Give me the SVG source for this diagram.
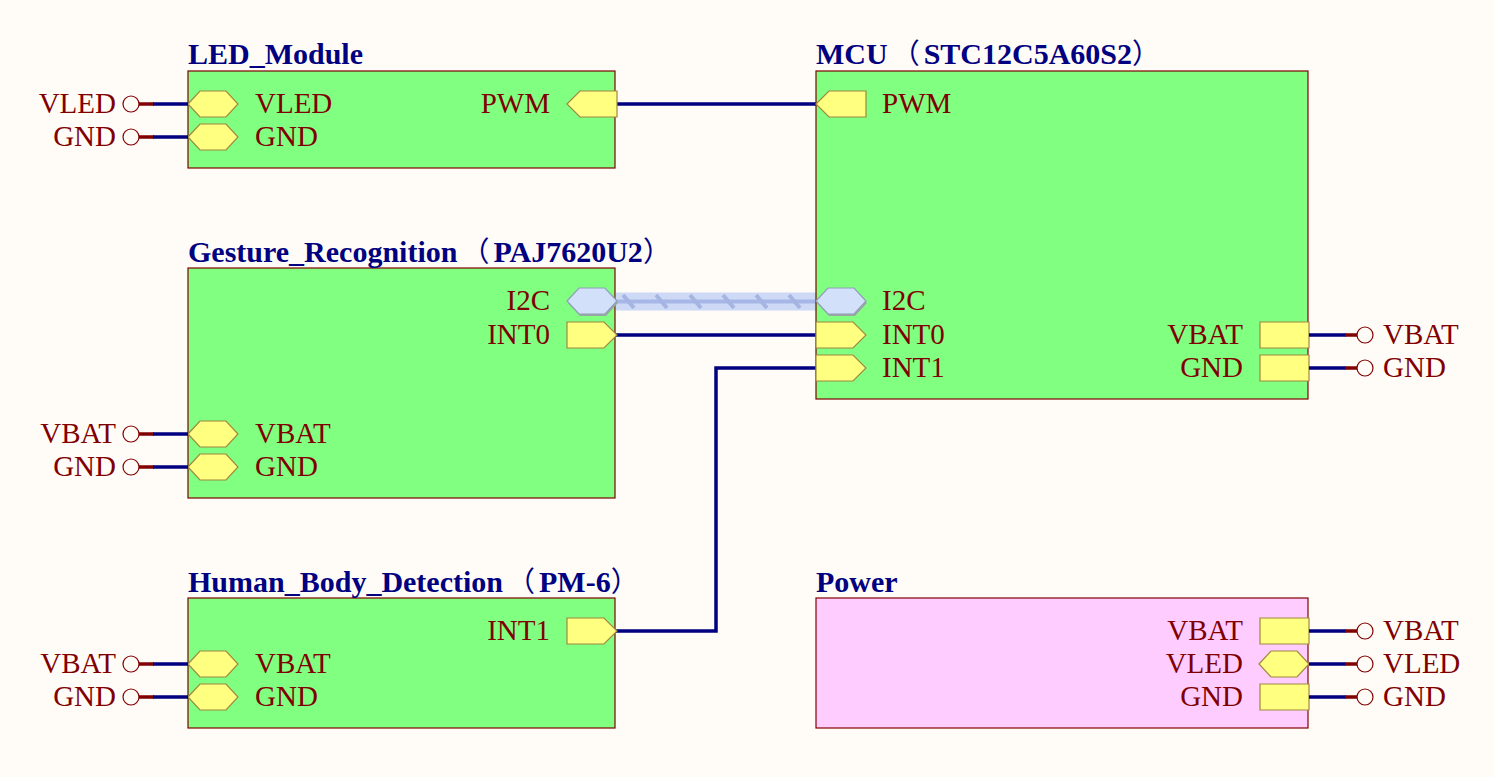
<svg xmlns="http://www.w3.org/2000/svg" xmlns:xlink="http://www.w3.org/1999/xlink" width="1494" height="777" viewBox="0 0 1494 777">
<style>
.bg{fill:#FFFCF8}
.blk{fill:#80FF80;stroke:#800000;stroke-width:1.2}
.pwr{fill:#FFCCFF;stroke:#800000;stroke-width:1.2}
.title{font-family:"Liberation Serif","Noto Sans CJK SC",serif;font-weight:bold;font-size:30px;fill:#000080}
.par{font-weight:normal;font-family:"Noto Sans CJK SC",sans-serif;font-size:28px}
.lbl{font-family:"Liberation Serif",serif;font-size:29px;fill:#800000}
.port{fill:#FFFF80;stroke:#A08840;stroke-width:1.2}
.bport{fill:#D3E0FA;stroke:#8FA0B8;stroke-width:1.2}
.wire{stroke:#000080;stroke-width:3.5;fill:none}
.stub{stroke:#800000;stroke-width:3.5;fill:none}
.pp{fill:#FFFCF8;stroke:#800000;stroke-width:1.2}
</style>
<defs>
<path id="hex" d="M0,0 L12,-13 L38,-13 L50,0 L38,13 L12,13 Z"/>
<path id="penR" d="M0,-13 L37,-13 L50,0 L37,13 L0,13 Z"/>
<path id="penL" d="M0,0 L13,-13 L50,-13 L50,13 L13,13 Z"/>
<path id="rct" d="M0,-13 H49 V13 H0 Z"/>
</defs>
<rect class="bg" x="0" y="0" width="1494" height="777"/>

<g id="connectors">
<line class="wire" x1="617" y1="104" x2="816" y2="104"/>
<line class="wire" x1="616" y1="335" x2="816" y2="335"/>
<path class="wire" d="M816,368 H716 V631 H616"/>
<g id="i2c-bus">
<rect x="616" y="292.5" width="200" height="18" fill="#C6D4F4" opacity="0.85"/>
<line x1="616" y1="301.5" x2="816" y2="301.5" stroke="#A6B6E6" stroke-width="4"/>
<g stroke="#A6B4E2" stroke-width="4">
<line x1="623" y1="295" x2="634" y2="308"/>
<line x1="656" y1="295" x2="667" y2="308"/>
<line x1="690" y1="295" x2="701" y2="308"/>
<line x1="723" y1="295" x2="734" y2="308"/>
<line x1="756" y1="295" x2="767" y2="308"/>
<line x1="789" y1="295" x2="800" y2="308"/>
</g>
</g>
</g>

<g id="led-module">
<rect class="blk" x="188" y="71" width="427" height="97"/>
<text class="title" x="188" y="64">LED_Module</text>
<use href="#hex" class="port" x="188" y="104"/>
<use href="#hex" class="port" x="188" y="137"/>
<use href="#penL" class="port" x="567" y="104"/>
<text class="lbl" x="255" y="113">VLED</text>
<text class="lbl" x="255" y="146">GND</text>
<text class="lbl" x="550" y="113" text-anchor="end">PWM</text>
<line class="stub" x1="139" y1="104" x2="154" y2="104"/><line class="wire" x1="153" y1="104" x2="188" y2="104"/>
<line class="stub" x1="139" y1="137" x2="154" y2="137"/><line class="wire" x1="153" y1="137" x2="188" y2="137"/>
<circle class="pp" cx="131" cy="104" r="8"/>
<circle class="pp" cx="131" cy="137" r="8"/>
<text class="lbl" x="116" y="113" text-anchor="end">VLED</text>
<text class="lbl" x="116" y="146" text-anchor="end">GND</text>
</g>

<g id="gesture">
<rect class="blk" x="188" y="268" width="427" height="230"/>
<text class="title" x="188" y="262">Gesture_Recognition<tspan class="par" dx="4">（</tspan><tspan dx="4">PAJ7620U2</tspan><tspan class="par">）</tspan></text>
<use href="#hex" fill="#9AA8A0" x="568" y="303"/>
<use href="#hex" class="bport" x="567" y="301"/>
<use href="#penR" class="port" x="567" y="335"/>
<text class="lbl" x="550" y="310" text-anchor="end">I2C</text>
<text class="lbl" x="550" y="344" text-anchor="end">INT0</text>
<use href="#hex" class="port" x="188" y="434"/>
<use href="#hex" class="port" x="188" y="467"/>
<text class="lbl" x="255" y="443">VBAT</text>
<text class="lbl" x="255" y="476">GND</text>
<line class="stub" x1="139" y1="434" x2="154" y2="434"/><line class="wire" x1="153" y1="434" x2="188" y2="434"/>
<line class="stub" x1="139" y1="467" x2="154" y2="467"/><line class="wire" x1="153" y1="467" x2="188" y2="467"/>
<circle class="pp" cx="131" cy="434" r="8"/>
<circle class="pp" cx="131" cy="467" r="8"/>
<text class="lbl" x="116" y="443" text-anchor="end">VBAT</text>
<text class="lbl" x="116" y="476" text-anchor="end">GND</text>
</g>

<g id="human-body">
<rect class="blk" x="188" y="598" width="427" height="130"/>
<text class="title" x="188" y="592">Human_Body_Detection<tspan class="par" dx="4">（</tspan><tspan dx="4">PM-6</tspan><tspan class="par">）</tspan></text>
<use href="#penR" class="port" x="567" y="631"/>
<text class="lbl" x="550" y="640" text-anchor="end">INT1</text>
<use href="#hex" class="port" x="188" y="664"/>
<use href="#hex" class="port" x="188" y="697"/>
<text class="lbl" x="255" y="673">VBAT</text>
<text class="lbl" x="255" y="706">GND</text>
<line class="stub" x1="139" y1="664" x2="154" y2="664"/><line class="wire" x1="153" y1="664" x2="188" y2="664"/>
<line class="stub" x1="139" y1="697" x2="154" y2="697"/><line class="wire" x1="153" y1="697" x2="188" y2="697"/>
<circle class="pp" cx="131" cy="664" r="8"/>
<circle class="pp" cx="131" cy="697" r="8"/>
<text class="lbl" x="116" y="673" text-anchor="end">VBAT</text>
<text class="lbl" x="116" y="706" text-anchor="end">GND</text>
</g>

<g id="mcu">
<rect class="blk" x="816" y="71" width="492" height="328"/>
<text class="title" x="816" y="64">MCU<tspan class="par" dx="4">（</tspan><tspan dx="4">STC12C5A60S2</tspan><tspan class="par">）</tspan></text>
<use href="#penL" class="port" x="816" y="104"/>
<text class="lbl" x="882" y="113">PWM</text>
<use href="#hex" fill="#9AA8A0" x="817" y="303"/>
<use href="#hex" class="bport" x="816" y="301"/>
<text class="lbl" x="882" y="310">I2C</text>
<use href="#penR" class="port" x="816" y="335"/>
<text class="lbl" x="882" y="344">INT0</text>
<use href="#penR" class="port" x="816" y="368"/>
<text class="lbl" x="882" y="377">INT1</text>
<use href="#rct" class="port" x="1260" y="335"/>
<use href="#rct" class="port" x="1260" y="368"/>
<text class="lbl" x="1243" y="344" text-anchor="end">VBAT</text>
<text class="lbl" x="1243" y="377" text-anchor="end">GND</text>
<line class="wire" x1="1309" y1="335" x2="1346" y2="335"/><line class="stub" x1="1345" y1="335" x2="1358" y2="335"/>
<line class="wire" x1="1309" y1="368" x2="1346" y2="368"/><line class="stub" x1="1345" y1="368" x2="1358" y2="368"/>
<circle class="pp" cx="1365" cy="335" r="8"/>
<circle class="pp" cx="1365" cy="368" r="8"/>
<text class="lbl" x="1383" y="344">VBAT</text>
<text class="lbl" x="1383" y="377">GND</text>
</g>

<g id="power">
<rect class="pwr" x="816" y="598" width="492" height="130"/>
<text class="title" x="816" y="592">Power</text>
<use href="#rct" class="port" x="1260" y="631"/>
<use href="#hex" class="port" x="1259" y="664"/>
<use href="#rct" class="port" x="1260" y="697"/>
<text class="lbl" x="1243" y="640" text-anchor="end">VBAT</text>
<text class="lbl" x="1243" y="673" text-anchor="end">VLED</text>
<text class="lbl" x="1243" y="706" text-anchor="end">GND</text>
<line class="wire" x1="1309" y1="631" x2="1346" y2="631"/><line class="stub" x1="1345" y1="631" x2="1358" y2="631"/>
<line class="wire" x1="1309" y1="664" x2="1346" y2="664"/><line class="stub" x1="1345" y1="664" x2="1358" y2="664"/>
<line class="wire" x1="1309" y1="697" x2="1346" y2="697"/><line class="stub" x1="1345" y1="697" x2="1358" y2="697"/>
<circle class="pp" cx="1365" cy="631" r="8"/>
<circle class="pp" cx="1365" cy="664" r="8"/>
<circle class="pp" cx="1365" cy="697" r="8"/>
<text class="lbl" x="1383" y="640">VBAT</text>
<text class="lbl" x="1383" y="673">VLED</text>
<text class="lbl" x="1383" y="706">GND</text>
</g>
</svg>
